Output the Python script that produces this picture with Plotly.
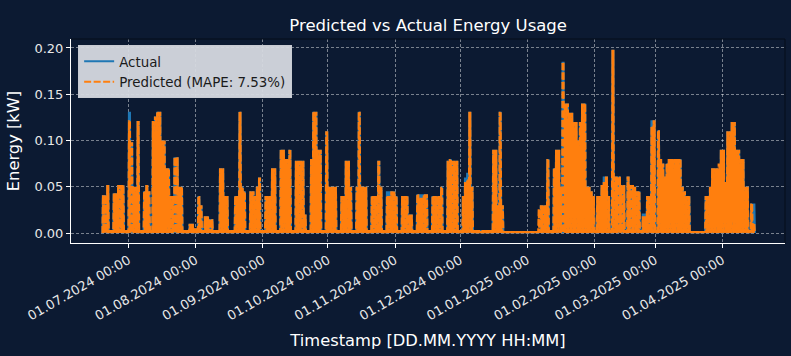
import pandas as pd
import plotly.graph_objects as go

# ---- data ----
start_day = "2024-06-19"          # first day with data
# daily peak energy [kW], one value per day from 19.06.2024 to 15.04.2025
actual_peak = [
    0.041, 0.041, 0.052, 0.003, 0.003,                      # 19.06 - 23.06
    0.043, 0.043, 0.052, 0.052, 0.052, 0.003, 0.003,        # 24.06
    0.131, 0.098, 0.050, 0.050, 0.121, 0.003, 0.003,        # 01.07
    0.045, 0.052, 0.045, 0.003, 0.121, 0.126, 0.131,        # 08.07
    0.131, 0.100, 0.100, 0.070, 0.070, 0.040, 0.040,        # 15.07
    0.082, 0.082, 0.050, 0.050, 0.003, 0.003, 0.003,        # 22.07
    0.010, 0.010, 0.005, 0.005, 0.040, 0.030, 0.003,        # 29.07
    0.018, 0.018, 0.015, 0.015, 0.003, 0.003, 0.003,        # 05.08
    0.070, 0.070, 0.040, 0.040, 0.003, 0.003, 0.003,        # 12.08
    0.040, 0.040, 0.131, 0.050, 0.045, 0.003, 0.003,        # 19.08
    0.045, 0.045, 0.040, 0.050, 0.060, 0.003, 0.003,        # 26.08
    0.040, 0.040, 0.040, 0.070, 0.070, 0.003, 0.003,        # 02.09
    0.090, 0.090, 0.080, 0.080, 0.090, 0.003, 0.003,        # 09.09
    0.078, 0.078, 0.078, 0.078, 0.020, 0.003, 0.003,        # 16.09
    0.080, 0.131, 0.131, 0.090, 0.090, 0.003, 0.003,        # 23.09
    0.110, 0.050, 0.050, 0.050, 0.050, 0.003, 0.003,        # 30.09
    0.040, 0.040, 0.078, 0.078, 0.050, 0.003, 0.003,        # 07.10
    0.050, 0.131, 0.050, 0.050, 0.050, 0.003, 0.003,        # 14.10
    0.040, 0.040, 0.040, 0.078, 0.050, 0.003, 0.003,        # 21.10
    0.045, 0.045, 0.045, 0.045, 0.040, 0.003, 0.003,        # 28.10
    0.040, 0.040, 0.040, 0.020, 0.020, 0.003, 0.003,        # 04.11
    0.042, 0.042, 0.042, 0.042, 0.042, 0.003, 0.003,        # 11.11
    0.040, 0.040, 0.040, 0.040, 0.050, 0.003, 0.003,        # 18.11
    0.078, 0.080, 0.078, 0.078, 0.078, 0.003, 0.003,        # 25.11
    0.040, 0.060, 0.065, 0.131, 0.050, 0.003, 0.003,        # 02.12
    0.003, 0.003, 0.003, 0.003, 0.003, 0.003, 0.003,        # 09.12
    0.090, 0.090, 0.030, 0.131, 0.030, 0.002, 0.002,        # 16.12
    0.002, 0.002, 0.002, 0.002, 0.002, 0.002, 0.002,        # 23.12
    0.002, 0.002, 0.002, 0.002, 0.002, 0.002, 0.002,        # 30.12
    0.002, 0.030, 0.030, 0.030, 0.080, 0.003, 0.003,        # 06.01
    0.070, 0.090, 0.090, 0.050, 0.185, 0.140, 0.140,        # 13.01
    0.130, 0.130, 0.120, 0.120, 0.100, 0.120, 0.140,        # 20.01
    0.140, 0.050, 0.050, 0.045, 0.040, 0.003, 0.040,        # 27.01
    0.040, 0.052, 0.061, 0.061, 0.040, 0.003, 0.198,        # 03.02
    0.061, 0.061, 0.061, 0.052, 0.052, 0.003, 0.061,        # 10.02
    0.052, 0.052, 0.050, 0.045, 0.045, 0.003, 0.021,        # 17.02
    0.021, 0.040, 0.040, 0.122, 0.122, 0.003, 0.111,        # 24.02
    0.080, 0.075, 0.061, 0.075, 0.080, 0.080, 0.080,        # 03.03
    0.080, 0.080, 0.080, 0.050, 0.045, 0.040, 0.040,        # 10.03
    0.002, 0.002, 0.002, 0.002, 0.002, 0.002, 0.002,        # 17.03
    0.040, 0.040, 0.050, 0.070, 0.070, 0.070, 0.003,        # 24.03
    0.090, 0.090, 0.055, 0.110, 0.110, 0.120, 0.120,        # 31.03
    0.090, 0.090, 0.080, 0.080, 0.050, 0.050, 0.003,        # 07.04
    0.032, 0.032,                                           # 14.04 - 15.04
]
# days where the prediction differs from the measured peak (day index -> value)
predicted_differences = {
    12: 0.122, 131: 0.040, 132: 0.040, 146: 0.038, 147: 0.038,
    167: 0.055, 168: 0.058, 174: 0.002, 201: 0.026, 231: 0.055,
    249: 0.018, 250: 0.018, 253: 0.115, 284: 0.075, 300: 0.010,
}
night_level = 0.0                 # overnight consumption level
peak_hours = [6, 18]              # hours of the day drawn at the daily peak
low_hours = [0, 12]               # hours of the day drawn at the night level

tick_dates = ["2024-07-01", "2024-08-01", "2024-09-01", "2024-10-01", "2024-11-01",
              "2024-12-01", "2025-01-01", "2025-02-01", "2025-03-01", "2025-04-01"]
tick_labels = [pd.Timestamp(d).strftime("%d.%m.%Y %H:%M") for d in tick_dates]
y_ticks = [0.0, 0.05, 0.10, 0.15, 0.20]

mape_text = "7.53%"

# ---- build the timeline table (night low / daytime peaks per day) ----
predicted_peak = [predicted_differences.get(i, v) for i, v in enumerate(actual_peak)]
days = pd.date_range(start_day, periods=len(actual_peak), freq="D")
t, a, p = [], [], []
for day, va, vp in zip(days, actual_peak, predicted_peak):
    for lo, hi in zip(low_hours, peak_hours):
        t += [day + pd.Timedelta(hours=lo), day + pd.Timedelta(hours=hi)]
        a += [night_level, va]
        p += [night_level, vp]
t.append(days[-1] + pd.Timedelta(days=1))
a.append(night_level)
p.append(night_level)

BG = "#0c1a32"
FONT = "DejaVu Sans"

fig = go.Figure()
fig.add_trace(go.Scatter(x=t, y=a, mode="lines", name="Actual",
                         line=dict(color="#1f77b4", width=2)))
fig.add_trace(go.Scatter(x=t, y=p, mode="lines", name=f"Predicted (MAPE: {mape_text})",
                         line=dict(color="#ff7f0e", width=2, dash="7px,2.5px")))

grid = "rgba(255,255,255,0.45)"
fig.update_layout(
    width=791, height=356,
    paper_bgcolor=BG, plot_bgcolor=BG,
    margin=dict(l=71, r=6, t=39, b=113, autoexpand=False),
    font=dict(family=FONT, color="#ffffff", size=13),
    title=dict(text="Predicted vs Actual Energy Usage", x=0.5413, xanchor="center",
               y=0.93, yanchor="middle", yref="container",
               font=dict(size=16.5, color="#ffffff")),
    showlegend=True,
    legend=dict(x=0.010, y=0.97, xanchor="left", yanchor="top",
                bgcolor="rgba(214,217,224,0.95)", bordercolor="#c8cbd2", borderwidth=1,
                font=dict(size=13.4, color="#1a1a1a"), tracegroupgap=2,
                itemwidth=30),
)
fig.update_xaxes(
    automargin=False,
    range=["2024-06-04 13:00", "2025-04-29 21:00"],
    tickmode="array", tickvals=tick_dates, ticktext=tick_labels, tickangle=-30,
    tickfont=dict(size=13, color="#e8e8e8"),
    ticks="outside", ticklen=4, tickcolor="#ffffff",
    showline=True, linecolor="#ffffff", linewidth=1, mirror=False,
    showgrid=True, gridcolor=grid, griddash="3px,2px", gridwidth=0.7,
    zeroline=False,
    title=dict(text="Timestamp [DD.MM.YYYY HH:MM]", font=dict(size=16.3, color="#ffffff"),
               standoff=12),
)
fig.update_yaxes(
    automargin=False,
    range=[-0.0108, 0.2097],
    tickvals=y_ticks, tickformat=".2f",
    tickfont=dict(size=13, color="#e8e8e8"),
    ticks="outside", ticklen=4, tickcolor="#ffffff",
    showline=True, linecolor="#ffffff", linewidth=1,
    showgrid=True, gridcolor=grid, griddash="3px,2px", gridwidth=0.7,
    zeroline=False,
    title=dict(text="Energy [kW]", font=dict(size=16.3, color="#ffffff"), standoff=10),
)
# dark top/right frame of the axes
fig.add_shape(type="line", xref="paper", yref="paper", x0=0, x1=1, y0=1, y1=1,
              line=dict(color="#050c18", width=1))
fig.add_shape(type="line", xref="paper", yref="paper", x0=1, x1=1, y0=0, y1=1,
              line=dict(color="#050c18", width=1))

fig.write_html(
    "out.html",
    config={"displayModeBar": False},
    post_script="document.body.style.margin='0';document.body.style.background='%s';" % BG,
)
